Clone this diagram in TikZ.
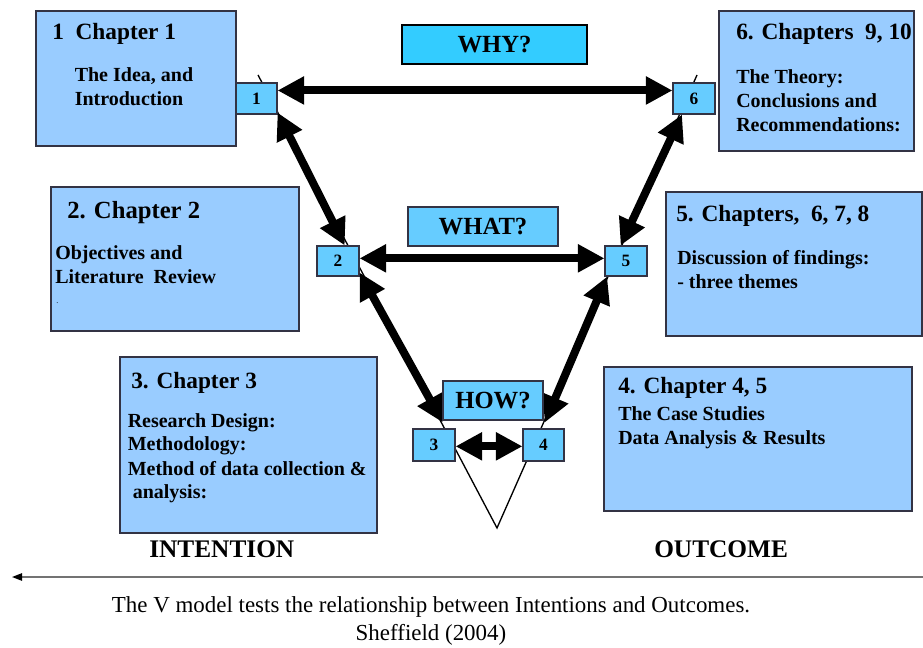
\documentclass[tikz,border=0pt]{standalone}
\usepackage{fontspec}
\setmainfont{Liberation Serif}
\usetikzlibrary{arrows.meta,fit}
\definecolor{chapfill}{HTML}{99CCFF}
\definecolor{numfill}{HTML}{66CCFF}
\definecolor{whyfill}{HTML}{33CCFF}
\definecolor{edgecol}{HTML}{333344}
\begin{document}
\begin{tikzpicture}[x=0.75pt,y=-0.75pt,
  chapbox/.style={draw=edgecol, fill=chapfill, line width=0.8pt, inner sep=0pt},
  numbox/.style={draw=edgecol, fill=numfill, line width=0.8pt, inner sep=0pt,
    label={[font=\fontsize{13}{13}\selectfont\bfseries, inner sep=0pt]center:#1}},
  qbox/.style={draw=edgecol, fill=numfill, line width=0.8pt, inner sep=0pt,
    label={[font=\fontsize{18.5}{20}\selectfont\bfseries, inner sep=0pt]center:#1}},
  head/.style={anchor=base west, inner sep=0pt, font=\fontsize{17.5}{20}\selectfont\bfseries},
  bighead/.style={head, font=\fontsize{18.5}{20}\selectfont\bfseries},
  body/.style={anchor=base west, inner sep=0pt, font=\fontsize{15}{18}\selectfont\bfseries},
  side/.style={anchor=base west, inner sep=0pt, font=\fontsize{19}{22}\selectfont\bfseries},
  caption/.style={anchor=base, inner sep=0pt, font=\fontsize{17.2}{20}\selectfont},
  bigarrow/.style={line width=6pt,
    {Triangle[length=20pt,width=20pt]}-{Triangle[length=20pt,width=20pt]}},
  vline/.style={line width=1pt, line join=miter},
]
\useasboundingbox (0,0) rectangle (923,648);

% the thin V behind the chapter steps
\coordinate (vtl) at (258,75);
\coordinate (vap) at (497,528);
\coordinate (vtr) at (697,75);
\draw[vline] (vtl) -- (vap) -- (vtr);

% chapter boxes
\node[chapbox, fit={(36,11) (236,146)}] (c1) {};
\node[chapbox, fit={(719,11) (914,151)}] (c6) {};
\node[chapbox, fit={(51,187) (299,331)}] (c2) {};
\node[chapbox, fit={(666,192) (922,336)}] (c5) {};
\node[chapbox, fit={(120,357) (377,533)}] (c3) {};
\node[chapbox, fit={(604,367) (912,511)}] (c4) {};

% numbered step boxes
\node[numbox=1, fit={(236,83) (277,114)}] (n1) {};
\node[numbox=6, fit={(673,83) (715,114)}] (n6) {};
\node[numbox=2, fit={(317,246) (359,276)}] (n2) {};
\node[numbox=5, fit={(605,246) (647,276)}] (n5) {};
\node[numbox=3, fit={(413,429) (455,461)}] (n3) {};
\node[numbox=4, fit={(523,429) (564,461)}] (n4) {};

% question boxes
\node[qbox=WHY?, fill=whyfill, draw=black, fit={(402,25) (587,64)}] (why) {};
\node[qbox=WHAT?, fit={(408,207) (558,246)}] (what) {};

% thick double arrows
\draw[bigarrow] ([yshift=-6pt]n1.north east) -- ([yshift=-6pt]n6.north west);
\draw[bigarrow] ([yshift=2pt]n2.east) -- ([yshift=2pt]n5.west);
\draw[bigarrow] ([yshift=1.5pt]n1.south east) -- ([xshift=5pt]n2.north);
\draw[bigarrow] ([xshift=-9pt]n6.south) -- ([xshift=-4pt]n5.north);
\draw[bigarrow] ([yshift=3pt]n2.south east) -- ([xshift=6.5pt,yshift=4.5pt]n3.north);
\draw[bigarrow] ([xshift=2pt]n5.south west) -- ([xshift=1pt,yshift=4.5pt]n4.north);
\draw[bigarrow] ([yshift=-1pt]n3.east) -- ([yshift=-1pt]n4.west);

\node[qbox=HOW?, fit={(443,381) (543,420)}] (how) {};

% texts of chapter 1
\node[head] (t1a) at (52,40) {1\ \ Chapter 1};
\node[body] (t1b) at (74.5,82) {The Idea, and};
\node[body] (t1c) at (74.5,106) {Introduction};

% texts of chapters 9, 10
\node[head] (t6a) at (736,40) {6. Chapters\ \ 9, 10};
\node[body] (t6b) at (736,84) {The Theory:};
\node[body] (t6c) at (736,108) {Conclusions and};
\node[body] (t6d) at (736,132) {Recommendations:};

% texts of chapter 2
\node[bighead] (t2a) at (67,219) {2. Chapter 2};
\node[body] (t2b) at (55,260) {Objectives and};
\node[body] (t2c) at (55,284) {Literature\ \ Review};
\node[anchor=base west, inner sep=0pt, font=\fontsize{6}{6}\selectfont] (t2d) at (56,303) {.};

% texts of chapters 6, 7, 8
\node[head] (t5a) at (676,221.5) {5. Chapters,\ \ 6, 7, 8};
\node[body] (t5b) at (677,265) {Discussion of findings:};
\node[body] (t5c) at (677,288.5) {- three themes};

% texts of chapter 3
\node[head] (t3a) at (131,388.5) {3. Chapter 3};
\node[body] (t3b) at (127.5,427) {Research Design:};
\node[body] (t3c) at (127.5,450.5) {Methodology:};
\node[body] (t3d) at (127.5,475) {Method of data collection \&};
\node[body] (t3e) at (132.5,498.5) {analysis:};

% texts of chapters 4, 5
\node[head] (t4a) at (618,393) {4. Chapter 4, 5};
\node[body] (t4b) at (618,420) {The Case Studies};
\node[body] (t4c) at (618,444) {Data Analysis \& Results};

% the two sides and the axis below
\node[side] (intent) at (149,557) {INTENTION};
\node[side] (outc) at (654,557) {OUTCOME};
\coordinate (axR) at (923,577);
\coordinate (axL) at (12,577);
\draw[line width=1.1pt, draw=black!55,
  -{Triangle[length=7.5pt,width=5.5pt,color=black]}] (axR) -- (axL);

\node[caption] (cap1) at (431,612) {The V model tests the relationship between Intentions and Outcomes.};
\node[caption] (cap2) at (431,640) {Sheffield (2004)};
\end{tikzpicture}
\end{document}
